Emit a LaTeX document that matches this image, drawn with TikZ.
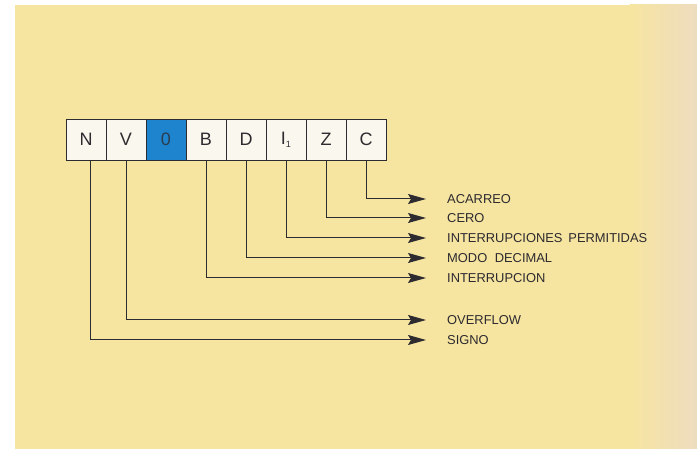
\documentclass[tikz,border=0pt]{standalone}
\usepackage{fontspec}
\setmainfont{Liberation Sans}
\usetikzlibrary{arrows.meta}
\definecolor{bgyellow}{RGB}{246,229,160}
\definecolor{bgedge}{RGB}{238,220,192}
\definecolor{cellfill}{RGB}{250,248,238}
\definecolor{cellblue}{RGB}{30,132,206}
\definecolor{ink}{RGB}{45,42,48}
\tikzset{
  cell/.style={draw=ink, line width=0.9pt, fill=cellfill, minimum width=40pt,
    minimum height=41pt, inner sep=0pt, text=ink,
    font=\fontsize{18}{18}\selectfont},
  bluecell/.style={cell, fill=cellblue, text=ink!80!cellblue},
  flaglabel/.style={anchor=west, inner sep=0pt, text=ink,
    font=\fontsize{12.9}{12.9}\selectfont},
  conn/.style={draw=ink, line width=1pt,
    -{Stealth[length=18pt,width=10pt,inset=3pt]}, shorten >=21pt}
}
\begin{document}
\begin{tikzpicture}[x=1pt,y=-1pt]
\useasboundingbox (0,0) rectangle (697,449);
\fill[white] (0,0) rectangle (697,449);
\fill[bgyellow] (15,5) rectangle (697,449);
\shade[left color=bgyellow, right color=bgedge] (630,5) rectangle (697,449);
% register cells
\node[cell]     (N) at (86,139.5) {N};
\node[cell]     (V) at (126,139.5) {V};
\node[bluecell] (O) at (166,139.5) {0};
\node[cell]     (B) at (206,139.5) {B};
\node[cell]     (D) at (246,139.5) {D};
\node[cell]     (I) at (286,139.5) {I\raisebox{-0.35ex}{\fontsize{9}{9}\selectfont 1}};
\node[cell]     (Z) at (326,139.5) {Z};
\node[cell]     (C) at (366,139.5) {C};
% labels
\node[flaglabel] (acarreo) at (447,199) {ACARREO};
\node[flaglabel] (cero)    at (447,218) {CERO};
\node[flaglabel] (intper)  at (447,238) {INTERRUPCIONES\hspace{0.45em}PERMITIDAS};
\node[flaglabel] (modo)    at (447,258) {MODO\hspace{0.3em} DECIMAL};
\node[flaglabel] (interr)  at (447,278) {INTERRUPCION};
\node[flaglabel] (overfl)  at (447,320) {OVERFLOW};
\node[flaglabel] (signo)   at (447,340) {SIGNO};
% connectors
\coordinate (Nx) at ([xshift=4pt]N.south);
\draw[conn] (C.south) |- (acarreo.west);
\draw[conn] (Z.south) |- (cero.west);
\draw[conn] (I.south) |- (intper.west);
\draw[conn] (D.south) |- (modo.west);
\draw[conn] (B.south) |- (interr.west);
\draw[conn] (V.south) |- (overfl.west);
\draw[conn] (Nx) |- (signo.west);
\end{tikzpicture}
\end{document}
